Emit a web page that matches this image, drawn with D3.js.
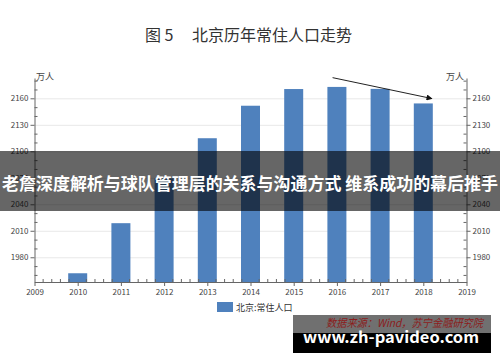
<!DOCTYPE html>
<html>
    <head>
        <meta charset="utf-8">
        <script src="https://d3js.org/d3.v7.min.js"></script>
        <style>
            body { margin: 0; background: #fff; }
            svg { display: block; }
            text { font-family: "Noto Sans CJK SC", "Noto Sans", sans-serif; }
        </style>
    </head>
    <body>
        <script>
            // data (万人)
            const years = [2010, 2011, 2012, 2013, 2014, 2015, 2016, 2017, 2018]
            const population = [1961.9, 2018.6, 2069.3, 2114.8, 2151.6, 2170.5, 2172.9, 2170.7, 2154.2]
            const xTicks = [2009, 2010, 2011, 2012, 2013, 2014, 2015, 2016, 2017, 2018, 2019]
            const yTicks = [1980, 2010, 2040, 2070, 2100, 2130, 2160]
            const trendFrom = [2015.9, 2183.4]
            const trendTo = [2018.2, 2159.7]

            const svg = d3.select('body').append('svg')
                .attr('width', 500).attr('height', 362)

            const plotLeft = 34.5, plotRight = 466.5, plotTop = 78, plotBottom = 282

            const xScale = d3.scaleLinear().domain([2009, 2019]).range([plotLeft, plotRight])
            const yScale = d3.scaleLinear().domain([1952, 2183]).range([plotBottom, plotTop])

            svg.append('defs').append('marker')
                .attr('id', 'arrow')
                .attr('viewBox', '0 0 10 10')
                .attr('refX', 9).attr('refY', 5)
                .attr('markerWidth', 7).attr('markerHeight', 6)
                .attr('markerUnits', 'userSpaceOnUse')
                .attr('orient', 'auto')
                .append('path').attr('d', 'M0,0 L10,5 L0,10 z').attr('fill', '#111')

            // title
            svg.append('text').attr('x', 145).attr('y', 41)
                .attr('font-size', 16).attr('fill', '#333').text('图 5')
            svg.append('text').attr('x', 192).attr('y', 41)
                .attr('font-size', 16).attr('fill', '#333').text('北京历年常住人口走势')

            // faint gridlines
            svg.selectAll('.grid')
                .data(yTicks).enter()
                .append('line')
                    .attr('class', 'grid')
                    .attr('x1', plotLeft).attr('x2', plotRight)
                    .attr('y1', d => yScale(d) + 0.5).attr('y2', d => yScale(d) + 0.5)
                    .attr('stroke', '#e8e8e8').attr('stroke-width', 1)

            // bars
            const barW = 19
            svg.selectAll('.bar')
                .data(years).enter()
                .append('rect')
                    .attr('class', 'bar')
                    .attr('x', (d, i) => xScale(d) - barW / 2)
                    .attr('y', (d, i) => yScale(population[i]))
                    .attr('width', barW)
                    .attr('height', (d, i) => plotBottom - yScale(population[i]))
                    .attr('fill', '#4f81bd')

            // axes
            const styleAxis = (g) => {
                g.select('.domain').attr('stroke', '#666')
                g.selectAll('.tick line').attr('stroke', '#666')
                g.selectAll('.tick text').attr('fill', '#444').attr('font-size', 8)
                    .attr('font-family', '"Liberation Sans", "Noto Sans", sans-serif')
            }

            const minorY = d3.range(1960, 2181, 10).filter(v => !yTicks.includes(v))
            const minorX = d3.range(2009, 2019.01, 0.2).filter(v => Math.abs(v - Math.round(v)) > 0.01)

            const yLeft = svg.append('g').attr('transform', `translate(${plotLeft},0)`)
                .call(d3.axisLeft(yScale).tickValues(yTicks).tickSize(4).tickSizeOuter(0).tickPadding(2).tickFormat(d3.format('d')))
            styleAxis(yLeft)
            yLeft.selectAll('.minor').data(minorY).enter().append('line')
                .attr('x1', 0).attr('x2', 3)
                .attr('y1', d => yScale(d) + 0.5).attr('y2', d => yScale(d) + 0.5)
                .attr('stroke', '#666')

            const yRight = svg.append('g').attr('transform', `translate(${plotRight},0)`)
                .call(d3.axisRight(yScale).tickValues(yTicks).tickSize(4).tickSizeOuter(0).tickPadding(2).tickFormat(d3.format('d')))
            styleAxis(yRight)
            yRight.selectAll('.minor').data(minorY).enter().append('line')
                .attr('x1', 0).attr('x2', -3)
                .attr('y1', d => yScale(d) + 0.5).attr('y2', d => yScale(d) + 0.5)
                .attr('stroke', '#666')

            const xAxis = svg.append('g').attr('transform', `translate(0,${plotBottom})`)
                .call(d3.axisBottom(xScale).tickValues(xTicks).tickSize(4).tickSizeOuter(0).tickPadding(3).tickFormat(d3.format('d')))
            styleAxis(xAxis)
            xAxis.selectAll('.minor').data(minorX).enter().append('line')
                .attr('x1', d => xScale(d)).attr('x2', d => xScale(d))
                .attr('y1', 0).attr('y2', -3)
                .attr('stroke', '#666')

            // unit labels
            svg.append('text').attr('x', 36).attr('y', 80)
                .attr('font-size', 9).attr('fill', '#444').text('万人')
            svg.append('text').attr('x', 464).attr('y', 80).attr('text-anchor', 'end')
                .attr('font-size', 9).attr('fill', '#444').text('万人')

            // trend arrow
            svg.append('line')
                .attr('x1', xScale(trendFrom[0])).attr('y1', yScale(trendFrom[1]))
                .attr('x2', xScale(trendTo[0])).attr('y2', yScale(trendTo[1]))
                .attr('stroke', '#222').attr('stroke-width', 1)
                .attr('marker-end', 'url(#arrow)')

            // legend
            svg.append('rect').attr('x', 217).attr('y', 302).attr('width', 16).attr('height', 10)
                .attr('fill', '#4f81bd')
            svg.append('text').attr('x', 236).attr('y', 310.5)
                .attr('font-size', 9).attr('fill', '#333').text('北京:常住人口')

            // overlay banner
            svg.append('rect').attr('x', 0).attr('y', 151).attr('width', 500).attr('height', 60)
                .attr('fill', 'rgba(0,0,0,0.6)')
            svg.append('text').attr('x', 2).attr('y', 190)
                .attr('font-size', 17).attr('font-weight', 'bold').attr('fill', '#fff')
                .attr('textLength', 496).attr('lengthAdjust', 'spacingAndGlyphs')
                .text('老詹深度解析与球队管理层的关系与沟通方式 维系成功的幕后推手')

            // source + watermark
            svg.append('rect').attr('x', 293).attr('y', 315).attr('width', 198).attr('height', 18)
                .attr('fill', 'rgba(0,0,0,0.56)')
            svg.append('rect').attr('x', 293).attr('y', 333).attr('width', 198).attr('height', 20)
                .attr('fill', '#000')
            svg.append('text').attr('x', 326).attr('y', 327)
                .attr('font-size', 11).attr('font-style', 'italic').attr('fill', '#8c1c1c')
                .attr('textLength', 157).attr('lengthAdjust', 'spacingAndGlyphs')
                .text('数据来源：Wind，苏宁金融研究院')
            svg.append('text').attr('x', 303).attr('y', 343)
                .attr('font-size', 16).attr('font-weight', 'bold').attr('fill', '#fff')
                .attr('font-family', '"Open Sans", "DejaVu Sans", sans-serif')
                .attr('textLength', 176).attr('lengthAdjust', 'spacingAndGlyphs')
                .text('www.zh-pavideo.com')
        </script>
    </body>
</html>
